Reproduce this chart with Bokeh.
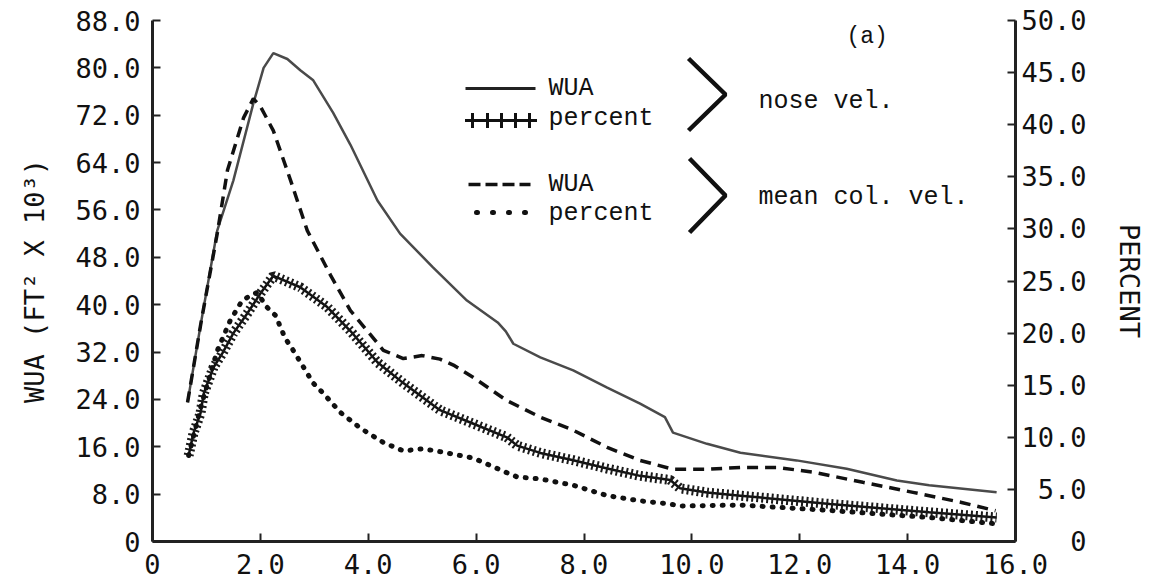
from bokeh.plotting import figure
from bokeh.models import Range1d, LinearAxis, FixedTicker
from bokeh.core.properties import value
from bokeh.embed import file_html
from bokeh.resources import INLINE

# ---------------- data ----------------
x_nose_wua = [0.65, 0.9, 1.2, 1.5, 1.87, 2.06, 2.24, 2.5, 2.74, 2.98, 3.35, 3.67, 4.17, 4.59, 5.2,
              5.83, 6.4, 6.55, 6.69, 7.19, 7.8, 8.43, 9.04, 9.5, 9.65, 10.28, 10.9, 11.94, 12.87,
              13.8, 14.4, 15.65]
y_nose_wua = [23.5, 37, 52.5, 61, 74, 80, 82.5, 81.5, 79.6, 77.9, 72.4, 67, 57.6, 52, 46.3,
              40.7, 37, 35.5, 33.4, 31.1, 28.9, 26, 23.3, 21, 18.4, 16.5, 15, 13.7, 12.3,
              10.3, 9.5, 8.3]

x_mean_wua = [0.65, 0.9, 1.2, 1.39, 1.69, 1.87, 2.0, 2.24, 2.56, 2.87, 3.3, 3.67, 3.98, 4.28,
              4.65, 5.0, 5.33, 5.6, 5.95, 6.57, 7.19, 7.8, 8.43, 9.04, 9.65, 10.28, 10.9, 11.6,
              12.25, 13.17, 14.1, 15.0, 15.63]
y_mean_wua = [23.5, 37, 52, 62.7, 71.6, 74.8, 73.5, 69.4, 61, 52.5, 45, 39, 35.6, 32.3,
              30.9, 31.4, 30.8, 29.7, 27.7, 23.8, 21, 18.8, 15.9, 13.7, 12.2, 12.2, 12.5, 12.5,
              11.7, 10, 8.3, 6.6, 5.2]

x_nose_pct = [0.67, 0.76, 0.89, 0.95, 1.13, 1.3, 1.5, 1.76, 2.0, 2.24, 2.74, 3.24, 3.67, 4.17,
              4.65, 5.33, 5.95, 6.57, 6.76, 7.19, 7.8, 8.43, 9.04, 9.6, 9.78, 10.28, 10.9,
              12.56, 14.4, 15.65]
y_nose_pct = [8.25, 10.4, 12.3, 14.2, 16.7, 18.1, 20, 21.9, 23.8, 25.5, 24.4, 22.5, 20.2, 17.2,
              15.2, 12.6, 11.3, 10.0, 9.2, 8.5, 7.8, 7.0, 6.3, 5.9, 5.1, 4.7, 4.4,
              3.6, 2.8, 2.3]

x_mean_pct = [0.67, 0.9, 1.2, 1.44, 1.66, 1.81, 1.94, 2.12, 2.28, 2.46, 2.59, 2.78, 2.98, 3.17,
              3.48, 3.85, 4.28, 4.65, 5.02, 5.46, 5.95, 6.57, 6.76, 7.19, 7.8, 8.43, 9.04, 9.6,
              9.78, 10.9, 12.5, 14.4, 15.65]
y_mean_pct = [8.25, 13, 18.3, 21.2, 23.1, 23.6, 23.9, 22.5, 21.7, 19.5, 18.5, 16.9, 15.2, 14.2,
              12.4, 10.9, 9.5, 8.7, 8.9, 8.5, 8.0, 6.6, 6.2, 6.0, 5.4, 4.4, 3.9, 3.6,
              3.4, 3.5, 3.0, 2.3, 1.7]

x_ticks = [0, 2, 4, 6, 8, 10, 12, 14, 16]
x_tick_labels = ["0", "2.0", "4.0", "6.0", "8.0", "10.0", "12.0", "14.0", "16.0"]
left_ticks = [0, 8, 16, 24, 32, 40, 48, 56, 64, 72, 80, 88]
left_tick_labels = ["0", "8.0", "16.0", "24.0", "32.0", "40.0", "48.0", "56.0", "64.0",
                    "72.0", "80.0", "88.0"]
right_ticks = [0, 5, 10, 15, 20, 25, 30, 35, 40, 45, 50]
right_tick_labels = ["0", "5.0", "10.0", "15.0", "20.0", "25.0", "30.0", "35.0", "40.0",
                     "45.0", "50.0"]

left_title = "WUA (FT\u00b2 X 10\u00b3)"
right_title = "PERCENT"
legend_wua = "WUA"
legend_pct = "percent"
legend_nose = "nose vel."
legend_mean = "mean col. vel."
panel_tag = "(a)"

# ---------------- figure ----------------
W, H = 1160, 588
FL, FT, FR, FB = 152, 20, 1015, 541          # frame edges in page pixels
p = figure(width=W, height=H, output_backend="svg", toolbar_location=None,
           x_range=Range1d(0, 16), y_range=Range1d(0, 88),
           min_border_left=FL, min_border_right=W - FR, min_border_top=FT,
           min_border_bottom=H - FB,
           y_axis_location=None, x_axis_location=None)
p.extra_y_ranges = {"pct": Range1d(0, 50)}
p.outline_line_color = None
p.grid.visible = False
p.background_fill_color = "white"
p.border_fill_color = "white"

TICKFONT = "DejaVu Sans Mono"


def style_axis(ax, ticks, labels, standoff):
    ax.ticker = FixedTicker(ticks=ticks)
    ax.major_label_overrides = {t: l for t, l in zip(ticks, labels)}
    ax.minor_tick_line_color = None
    ax.major_tick_in = 8
    ax.major_tick_out = 0
    ax.major_tick_line_width = 2
    ax.major_tick_line_color = "#222222"
    ax.axis_line_width = 3
    ax.axis_line_color = "#222222"
    ax.major_label_text_font = TICKFONT
    ax.major_label_text_font_size = "27px"
    ax.major_label_text_color = "#111111"
    ax.major_label_standoff = standoff
    ax.axis_label_text_font = TICKFONT
    ax.axis_label_text_font_size = "27px"
    ax.axis_label_text_font_style = "normal"
    ax.axis_label_text_color = "#111111"


xax = LinearAxis()
style_axis(xax, x_ticks, x_tick_labels, 12)
p.add_layout(xax, "below")

lax = LinearAxis(axis_label=left_title)
style_axis(lax, left_ticks, left_tick_labels, 12)
lax.axis_label_standoff = 22
p.add_layout(lax, "left")

# right labels are right-aligned in the original: pad with figure spaces (digit width)
width_r = max(len(s) for s in right_tick_labels)
right_padded = ["\u2007" * (width_r - len(s)) + s for s in right_tick_labels]
rax = LinearAxis(y_range_name="pct", axis_label=right_title)
style_axis(rax, right_ticks, right_padded, 6)
rax.axis_label_standoff = 24
p.add_layout(rax, "right")

# ---------------- series ----------------
# nose velocity WUA (solid)
p.line(x_nose_wua, y_nose_wua, line_color="#4a4a4a", line_width=2.5)
# mean column velocity WUA (dashed)
p.line(x_mean_wua, y_mean_wua, line_color="#111111", line_width=3.5, line_dash="11 7")
# nose velocity percent (line of crosses)
p.line(x_nose_pct, y_nose_pct, y_range_name="pct", line_color="#111111", line_width=2.5)
p.line(x_nose_pct, y_nose_pct, y_range_name="pct", line_color="#1a1a1a", line_width=10,
       line_dash="2 3")
# mean column velocity percent (dots)
p.line(x_mean_pct, y_mean_pct, y_range_name="pct", line_color="#111111", line_width=5,
       line_dash="1 9", line_cap="round")

# ---------------- legend (drawn by hand) ----------------
FSX, FSY = (FR - FL) / 16.0, (FB - FT) / 88.0


def dx(px):
    return (px - FL) / FSX


def dy(py):
    return (FB - py) / FSY


LEGFONT = value("Liberation Mono")
# solid sample
p.line([dx(465), dx(535)], [dy(88), dy(88)], line_color="#222222", line_width=3)
# crosses sample
p.line([dx(468), dx(535)], [dy(120), dy(120)], line_color="#111111", line_width=3)
p.scatter([dx(472), dx(487), dx(501), dx(515), dx(529)], [dy(120)] * 5, marker="cross",
          size=15, line_width=3, line_color="#111111")
# dashed sample
p.line([dx(468), dx(530)], [dy(184), dy(184)], line_color="#111111", line_width=3.5,
       line_dash="12 5")
# dotted sample
p.line([dx(476), dx(526)], [dy(212), dy(212)], line_color="#111111", line_width=5,
       line_dash="1 15", line_cap="round")

p.text([dx(548), dx(548)], [dy(88), dy(184)], text=[legend_wua, legend_wua],
       text_font=LEGFONT, text_font_size="25px", text_baseline="middle",
       text_color="#111111")
p.text([dx(548), dx(548)], [dy(118), dy(213)], text=[legend_pct, legend_pct],
       text_font=LEGFONT, text_font_size="25px", text_baseline="middle",
       text_color="#111111")
p.text([dx(758), dx(758)], [dy(101), dy(197)], text=[legend_nose, legend_mean],
       text_font=LEGFONT, text_font_size="25px", text_baseline="middle",
       text_color="#111111")
p.text([dx(846)], [dy(36)], text=[panel_tag], text_font=LEGFONT, text_font_size="23px",
       text_baseline="middle", text_color="#111111")

# brackets ">"
p.line([dx(688), dx(725), dx(688)], [dy(58), dy(94), dy(130)], line_color="#111111",
       line_width=4.5)
p.line([dx(689), dx(725), dx(689)], [dy(158), dy(195), dy(232)], line_color="#111111",
       line_width=4.5)

open("out.html", "w").write(file_html(p, INLINE))
